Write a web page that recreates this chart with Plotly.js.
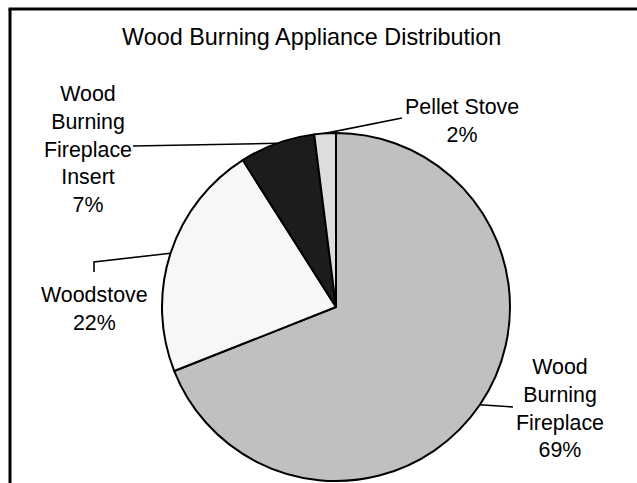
<!DOCTYPE html>
<html>
<head>
<meta charset="utf-8">
<script src="https://cdn.plot.ly/plotly-3.0.1.min.js"></script>
<style>html,body{margin:0;padding:0;background:#fff;}#chart{width:637px;height:483px;}</style>
</head>
<body>
<div id="chart"></div>
<script>
// ---- data ----
const chartTitle = "Wood Burning Appliance Distribution";
const categories = ["Wood Burning Fireplace", "Woodstove", "Wood Burning Fireplace Insert", "Pellet Stove"];
const labelLines = [["Wood", "Burning", "Fireplace"], ["Woodstove"], ["Wood", "Burning", "Fireplace", "Insert"], ["Pellet Stove"]];
const shares = [69, 22, 7, 2];
const sliceColors = ["#C0C0C0", "#F7F7F7", "#1C1C1C", "#DDDDDD"];

// ---- layout geometry (pixels) ----
const W = 637, H = 483;
const cx = 336, cy = 307, R = 174;
const px = x => x / W;
const py = y => 1 - y / H;

// label block centres and leader line anchor points (pixels)
const labelPos = [[560, 408], [94, 308.5], [88, 149], [461.5, 121]];
const leaderStart = [[[513, 407]], [[94, 272], [94, 262]], [[133, 146]], [[402, 118]]];

const total = shares.reduce((a, b) => a + b, 0);
let cum = 0;
const shapes = [];
const annotations = [];
shares.forEach((v, i) => {
  const mid = (cum + v / 2) / total * 2 * Math.PI; // clockwise from 12 o'clock
  cum += v;
  const ex = cx + R * Math.sin(mid), ey = cy - R * Math.cos(mid);
  const pts = leaderStart[i].concat([[ex, ey]]);
  let path = "";
  pts.forEach((p, k) => { path += (k === 0 ? "M " : " L ") + px(p[0]) + "," + py(p[1]); });
  shapes.push({type: "path", xref: "paper", yref: "paper", path: path, line: {color: "#000", width: 1.6}});
  const pct = Math.round(v / total * 100) + "%";
  annotations.push({
    xref: "paper", yref: "paper", x: px(labelPos[i][0]), y: py(labelPos[i][1]),
    xanchor: "center", yanchor: "middle", showarrow: false, align: "center",
    text: labelLines[i].concat([pct]).join("<br>"),
    font: {family: "Liberation Sans, Arial, sans-serif", size: 21.4, color: "#000"}
  });
});

// frame (left and top edges)
shapes.push({type: "line", xref: "paper", yref: "paper", x0: px(10), y0: py(9), x1: px(10), y1: py(500), line: {color: "#000", width: 3}});
shapes.push({type: "line", xref: "paper", yref: "paper", x0: px(8.5), y0: py(9), x1: px(660), y1: py(9), line: {color: "#000", width: 3}});

const trace = {
  type: "pie",
  labels: categories,
  values: shares,
  sort: false,
  direction: "clockwise",
  rotation: 0,
  textinfo: "none",
  hoverinfo: "label+percent",
  marker: {colors: sliceColors, line: {color: "#000", width: 2}},
  domain: {x: [px(cx - R), px(cx + R)], y: [py(cy + R), py(cy - R)]},
  showlegend: false
};

const layout = {
  width: W, height: H,
  margin: {l: 0, r: 0, t: 0, b: 0},
  paper_bgcolor: "#fff",
  title: {
    text: chartTitle,
    x: px(311.7), xanchor: "center", xref: "paper",
    y: py(37), yanchor: "middle", yref: "paper",
    font: {family: "Liberation Sans, Arial, sans-serif", size: 23.4, color: "#000"}
  },
  shapes: shapes,
  annotations: annotations,
  showlegend: false
};

Plotly.newPlot("chart", [trace], layout, {displayModeBar: false, staticPlot: true});
</script>
</body>
</html>
